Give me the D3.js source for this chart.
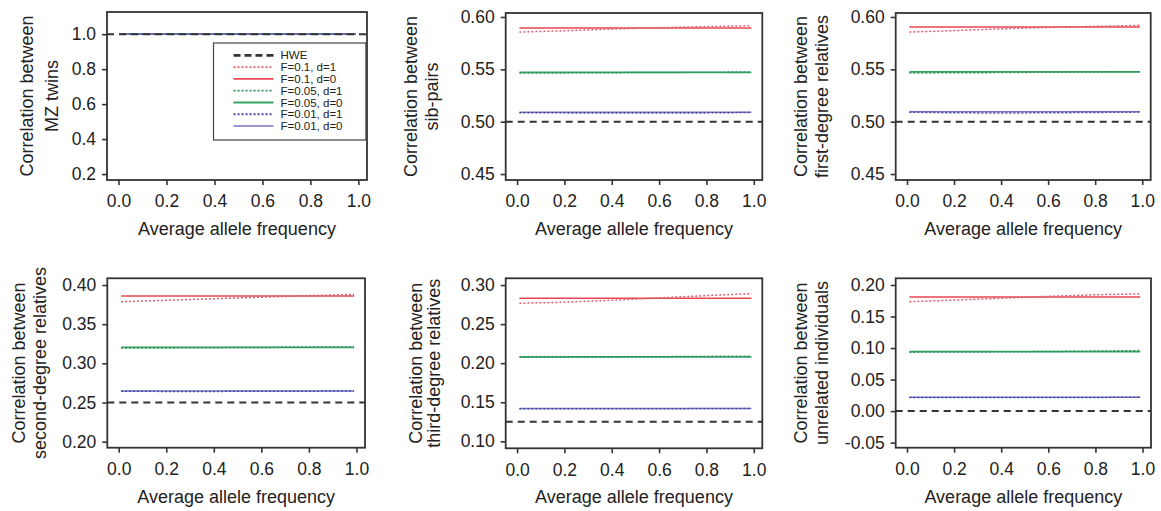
<!DOCTYPE html>
<meta charset="utf-8">
<script src="https://d3js.org/d3.v7.min.js"></script>
<style>
  body { margin: 0; background: #fff; }
  text { font-family: "Liberation Sans", Arial, Helvetica, sans-serif; fill: #222; }
</style>
<svg id="chart" width="1161" height="511"></svg>
<script>

// ---- data ----
var freq = [0.01, 0.2, 0.4, 0.6, 0.8, 0.99];

var yTitles = [
  ["Correlation between", "MZ twins"],
  ["Correlation between", "sib-pairs"],
  ["Correlation between", "first-degree relatives"],
  ["Correlation between", "second-degree relatives"],
  ["Correlation between", "third-degree relatives"],
  ["Correlation between", "unrelated individuals"]
];

var yTicks = [
  [0.2, 0.4, 0.6, 0.8, 1.0],
  [0.45, 0.50, 0.55, 0.60],
  [0.45, 0.50, 0.55, 0.60],
  [0.20, 0.25, 0.30, 0.35, 0.40],
  [0.10, 0.15, 0.20, 0.25, 0.30],
  [-0.05, 0.00, 0.05, 0.10, 0.15, 0.20]
];
var yDigits = [1, 2, 2, 2, 2, 2];
var yLimits = [
  [0.166, 1.127],
  [0.4443, 0.6038],
  [0.4443, 0.6038],
  [0.1923, 0.4086],
  [0.0911, 0.3086],
  [-0.058, 0.2106]
];
var xTicks = [0, 0.2, 0.4, 0.6, 0.8, 1.0];
var xLimits = [-0.048, 1.036];

var hwe = [1.0, 0.5, 0.5, 0.25, 0.125, 0.0];

// F=0.1
var f10d1 = [
  [1, 1, 1, 1, 1, 1],
  [0.5856, 0.5868, 0.5885, 0.5898, 0.5908, 0.5917],
  [0.5856, 0.5870, 0.5887, 0.5900, 0.5910, 0.5920],
  [0.3787, 0.3805, 0.3825, 0.3845, 0.3865, 0.3880],
  [0.2766, 0.2780, 0.2805, 0.2835, 0.2865, 0.2890],
  [0.1735, 0.1760, 0.1790, 0.1820, 0.1845, 0.1860]
];
var f10d0 = [1, 0.5895, 0.5904, 0.386, 0.283, 0.181];
// F=0.05
var f05d1 = [
  [1, 1, 1, 1, 1, 1],
  [0.5465, 0.5466, 0.5468, 0.5470, 0.5472, 0.5475],
  [0.5465, 0.5467, 0.5469, 0.5472, 0.5475, 0.5478],
  [0.3195, 0.3197, 0.3200, 0.3203, 0.3207, 0.3210],
  [0.2075, 0.2077, 0.2080, 0.2083, 0.2087, 0.2090],
  [0.0935, 0.0937, 0.0940, 0.0945, 0.0952, 0.0960]
];
var f05d0 = [1, 0.547, 0.5475, 0.3205, 0.208, 0.0943];
// F=0.01
var f01d1 = [
  [1, 1, 1, 1, 1, 1],
  [0.5086, 0.5084, 0.5082, 0.5082, 0.5084, 0.5088],
  [0.5090, 0.5085, 0.5083, 0.5085, 0.5088, 0.5092],
  [0.2643, 0.2642, 0.2642, 0.2643, 0.2645, 0.2647],
  [0.1418, 0.1417, 0.1417, 0.1418, 0.1419, 0.1421],
  [0.0215, 0.0214, 0.0214, 0.0215, 0.0217, 0.0220]
];
var f01d0 = [1, 0.509, 0.5095, 0.2647, 0.1421, 0.022];

var legendNames = ["HWE", "F=0.1, d=1", "F=0.1, d=0", "F=0.05, d=1", "F=0.05, d=0", "F=0.01, d=1", "F=0.01, d=0"];

// ---- styles for each series ----
var styles = [
  {color: "#333333", width: 2,   dash: "7,5"},
  {color: "#d9606e", width: 1.5, dash: "2,2"},
  {color: "#e8464f", width: 1.4, dash: null},
  {color: "#2f8f58", width: 1.5, dash: "2,2"},
  {color: "#36a464", width: 1.8, dash: null},
  {color: "#4a4aa0", width: 1.5, dash: "2,2"},
  {color: "#7474c4", width: 1.4, dash: null}
];

// ---- panel frames (left, top, width, height) ----
var frames = [
  {left: 107,   top: 12,    w: 260,   h: 168,   t1: 74, t2: 49},
  {left: 505.7, top: 13,    w: 256.6, h: 167,   t1: 89, t2: 68},
  {left: 895.7, top: 13,    w: 255,   h: 167,   t1: 89, t2: 68},
  {left: 107.3, top: 278.3, w: 257.7, h: 169.4, t1: 82, t2: 61},
  {left: 505.7, top: 278.3, w: 256.6, h: 170,   t1: 84, t2: 66},
  {left: 895.7, top: 278.3, w: 255.3, h: 169.4, t1: 89, t2: 68}
];

var svg = d3.select("#chart");

frames.forEach(function(fr, p) {
  var g = svg.append("g").attr("transform", "translate(" + fr.left + "," + fr.top + ")");

  var x = d3.scaleLinear().domain(xLimits).range([0, fr.w]);
  var y = d3.scaleLinear().domain(yLimits[p]).range([fr.h, 0]);

  var clipId = "clip" + p;
  g.append("clipPath").attr("id", clipId)
    .append("rect").attr("width", fr.w).attr("height", fr.h);

  // build series for this panel
  var series = [
    [{x: xLimits[0], y: hwe[p]}, {x: xLimits[1], y: hwe[p]}], // HWE spans full width
    freq.map(function(f, i) { return {x: f, y: f10d1[p][i]}; }),
    freq.map(function(f) { return {x: f, y: f10d0[p]}; }),
    freq.map(function(f, i) { return {x: f, y: f05d1[p][i]}; }),
    freq.map(function(f) { return {x: f, y: f05d0[p]}; }),
    freq.map(function(f, i) { return {x: f, y: f01d1[p][i]}; }),
    freq.map(function(f) { return {x: f, y: f01d0[p]}; })
  ];

  var line = d3.line().x(function(d) { return x(d.x); }).y(function(d) { return y(d.y); });

  var lines = g.append("g").attr("clip-path", "url(#" + clipId + ")");
  // solid below, dotted on top, HWE last
  [2, 4, 6, 1, 3, 5, 0].forEach(function(k) {
    lines.append("path")
      .datum(series[k])
      .attr("fill", "none")
      .attr("stroke", styles[k].color)
      .attr("stroke-width", styles[k].width)
      .attr("stroke-dasharray", styles[k].dash)
      .attr("d", line);
  });

  // axes
  var fmt = function(d) { return d.toFixed(yDigits[p]); };
  var yAxis = g.append("g")
    .call(d3.axisLeft(y).tickValues(yTicks[p]).tickFormat(fmt).tickSize(5).tickPadding(6).tickSizeOuter(0));
  var xAxis = g.append("g").attr("transform", "translate(0," + fr.h + ")")
    .call(d3.axisBottom(x).tickValues(xTicks).tickFormat(d3.format(".1f")).tickSize(5).tickPadding(10).tickSizeOuter(0));
  [xAxis, yAxis].forEach(function(a) {
    a.select(".domain").remove();
    a.selectAll(".tick line").attr("stroke", "#333").attr("stroke-width", 1.6);
    a.selectAll(".tick text").style("font-size", "17.5px").attr("fill", "#1a1a1a");
  });

  // frame
  g.append("rect")
    .attr("width", fr.w).attr("height", fr.h)
    .attr("fill", "none").attr("stroke", "#333").attr("stroke-width", 1.8);

  // titles
  g.append("text")
    .attr("x", fr.w / 2).attr("y", fr.h + 55)
    .attr("text-anchor", "middle")
    .style("font-size", "18px")
    .text("Average allele frequency");

  var yt = g.append("g");
  yt.append("text")
    .attr("transform", "translate(" + (-fr.t1) + "," + (fr.h / 2) + ") rotate(-90)")
    .attr("text-anchor", "middle").style("font-size", "18px")
    .text(yTitles[p][0]);
  yt.append("text")
    .attr("transform", "translate(" + (-fr.t2) + "," + (fr.h / 2) + ") rotate(-90)")
    .attr("text-anchor", "middle").style("font-size", "18px")
    .text(yTitles[p][1]);

  // legend in the first panel
  if (p === 0) {
    var lg = g.append("g").attr("transform", "translate(" + (fr.w - 153.5) + ",31)");
    lg.append("rect")
      .attr("width", 152.4).attr("height", 97)
      .attr("fill", "#fff").attr("stroke", "#444").attr("stroke-width", 1.2);
    legendNames.forEach(function(name, k) {
      var ly = 12.4 + k * 11.77;
      lg.append("line")
        .attr("x1", 20).attr("x2", 60).attr("y1", ly).attr("y2", ly)
        .attr("stroke", styles[k].color)
        .attr("stroke-width", k === 0 ? 2.6 : styles[k].width + 0.3)
        .attr("stroke-dasharray", k === 0 ? "7,4" : styles[k].dash);
      lg.append("text")
        .attr("x", 67).attr("y", ly).attr("dy", "0.35em")
        .style("font-size", "11.5px")
        .text(name);
    });
  }
});

</script>
